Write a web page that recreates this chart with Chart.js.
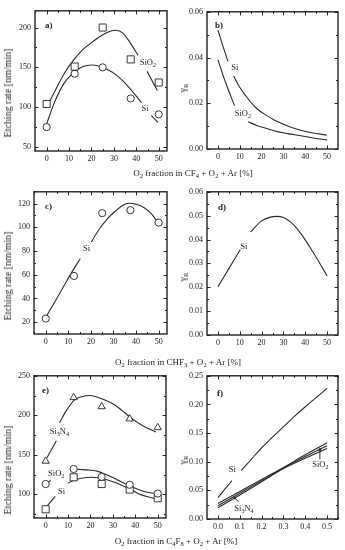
<!DOCTYPE html>
<html>
<head>
<meta charset="utf-8">
<title>Etching rate and recombination coefficient vs O2 fraction</title>
<script src="https://cdn.jsdelivr.net/npm/chart.js@4.4.0/dist/chart.umd.min.js"></script>
<style>
    body { margin: 0; background: #fff; width: 345px; height: 550px; position: relative; overflow: hidden;
           font-family: "Liberation Serif", serif; color: #222; }
    canvas { position: absolute; }
    .t { position: absolute; font-size: 9px; white-space: nowrap; line-height: 1; color: #222;
         will-change: transform; }
    .t sub { font-size: 6.5px; vertical-align: baseline; position: relative; top: 2px; color: #222; }
    .ctr { transform: translate(-50%, -50%); }
    .rot { transform: translate(-50%, -50%) rotate(-90deg); font-size: 10px; }
</style>
</head>
<body>
<canvas id="pa"></canvas>
<canvas id="pb"></canvas>
<canvas id="pc"></canvas>
<canvas id="pd"></canvas>
<canvas id="pe"></canvas>
<canvas id="pf"></canvas>

<div class="t rot" style="left:8px;top:93px">Etching rate [nm/min]</div>
<div class="t rot" style="left:183px;top:88px">γ<sub>R</sub></div>
<div class="t ctr" style="left:193px;top:173px">O<sub>2</sub> fraction in CF<sub>4</sub> + O<sub>2</sub> + Ar [%]</div>

<div class="t rot" style="left:8px;top:276px">Etching rate [nm/min]</div>
<div class="t rot" style="left:183px;top:277px">γ<sub>R</sub></div>
<div class="t ctr" style="left:178px;top:362px">O<sub>2</sub> fraction in CHF<sub>3</sub> + O<sub>2</sub> + Ar [%]</div>

<div class="t rot" style="left:8px;top:470px">Etching rate [nm/min]</div>
<div class="t rot" style="left:183px;top:460px">γ<sub>R</sub></div>
<div class="t ctr" style="left:176px;top:541px">O<sub>2</sub> fraction in C<sub>4</sub>F<sub>8</sub> + O<sub>2</sub> + Ar [%]</div>

<script>
// ---- data ----
var o2Pct = [0, 12.5, 25, 37.5, 50];
var xTicksPct = [0, 10, 20, 30, 40, 50];
var xTicksFrac = [0, 0.1, 0.2, 0.3, 0.4, 0.5];

// a) CF4 + O2 + Ar, etching rate
var aSiO2 = [104, 151, 200, 160, 131];
var aSi = [75, 142, 150, 111, 91];
var aFitSiO2X = [0, 4, 8, 12, 16, 20, 24, 28, 31, 34, 37, 40.8, 42.5, 44.8, 49.4];
var aFitSiO2Y = [100, 122, 143, 159, 172, 181, 189, 195, 196.5, 193, 182, 165, null, 145, 121];
var aFitSiX = [0, 3.5, 7.3, 11, 14.7, 17.5, 20.7, 24.9, 28, 31, 34, 37, 40, 42.3, 44.5, 46.7, 49.7];
var aFitSiY = [79, 106, 128, 141, 148.8, 152, 153, 150, 146, 140.6, 133, 124, 114, 105.7, null, 89.3, 81];
var yTicksA = [50, 100, 150, 200];

// b) CF4 + O2 + Ar, gamma_R
var bSiX = [0, 2.3, 4.6, 6, 7.2, 10, 14.5, 18, 22.2, 26, 29.8, 33.5, 37.5, 43, 50];
var bSiY = [0.052, 0.045, 0.0383, null, 0.0319, 0.027, 0.0211, 0.0175, 0.0147, 0.0126, 0.0109, 0.0095, 0.0083, 0.0071, 0.0061];
var bSiO2X = [0, 3.8, 7.6, 10, 13.8, 18, 22.2, 26, 29.8, 33.5, 37.5, 43, 50];
var bSiO2Y = [0.039, 0.0283, 0.019, null, 0.0119, 0.0102, 0.009, 0.0079, 0.0071, 0.0065, 0.0059, 0.0049, 0.004];
var yTicksB = [0, 0.02, 0.04, 0.06];

// c) CHF3 + O2 + Ar, etching rate
var cSi = [23, 59, 112, 114.5, 104];
var cFitX = [0, 4, 7.9, 11.5, 15.3, 17.5, 20.2, 23.5, 27.2, 31, 34, 36.9, 40, 43.6, 47, 50];
var cFitY = [24, 37, 50, 62, 73.7, null, 87.7, 98, 107, 114, 118.5, 120.3, 119.5, 116.6, 111, 103.4];
var yTicksC = [20, 40, 60, 80, 100, 120];

// d) CHF3 + O2 + Ar, gamma_R
var dFitX = [0, 5, 10.2, 12.5, 15, 20, 24, 27, 30, 34, 38, 42, 45, 47.5, 50];
var dFitY = [0.0202, 0.0278, 0.0357, null, 0.0432, 0.0478, 0.0494, 0.0497, 0.0492, 0.0468, 0.0425, 0.037, 0.0326, 0.0287, 0.0247];
var yTicksD = [0, 0.01, 0.02, 0.03, 0.04, 0.05, 0.06];

// e) C4F8 + O2 + Ar, etching rate
var eSi3N4 = [142, 222.5, 211, 195.5, 184.5];
var eSiO2 = [113, 132, 122, 112, 101];
var eSi = [81, 121.5, 113, 106, 95];
var eFitSi3N4X = [6.2, 9, 12.9, 16, 20, 24, 27.5, 30.7, 34.5, 38.1, 42, 45.5, 49.2];
var eFitSi3N4Y = [190.6, 205, 219.6, 223.5, 225, 222, 218, 213.4, 205, 196.8, 189, 183.6, 179];
var eFitSiO2X = [11.4, 16, 20, 23.3, 27, 30.7, 34.5, 38.1, 42, 45.5, 49.2];
var eFitSiO2Y = [131.7, 131.3, 130.5, 129, 125, 120.3, 114.5, 109.9, 105.5, 102.5, 100.9];
var eFitSiX = [10, 12.5, 15.9, 20.3, 24, 27.7, 31.4, 35.1, 38.8, 42.5, 46, 49.2];
var eFitSiY = [114.1, 117.8, 120.3, 121.6, 120.6, 118.2, 114.5, 110, 104.8, 99.6, 96.5, 94.3];
var eLeadSi3N4X = [0.6, 4.8], eLeadSi3N4Y = [146.4, 167.9];
var eLeadSiO2X = [0.9, 2.2], eLeadSiO2Y = [114.5, 118];
var eLeadSiX = [0.6, 4.3], eLeadSiY = [85, 97.5];
var yTicksE = [100, 150, 200, 250];

// f) C4F8 + O2 + Ar, gamma_R
var fSiX = [0, 0.032, 0.064, 0.085, 0.106, 0.15, 0.2, 0.25, 0.303, 0.35, 0.4, 0.45, 0.5];
var fSiY = [0.0374, 0.052, 0.067, null, 0.0845, 0.103, 0.124, 0.143, 0.162, 0.179, 0.196, 0.212, 0.228];
var fLowX = [0, 0.1, 0.2, 0.3, 0.4, 0.5];
var fLow1 = [0.027, 0.048, 0.069, 0.090, 0.112, 0.133];
var fLow2 = [0.023, 0.045, 0.067, 0.089, 0.109, 0.128];
var fLow3 = [0.0195, 0.042, 0.065, 0.088, 0.106, 0.123];
var fArrowSi3N4X = [0.094, 0.077], fArrowSi3N4Y = [0.030, 0.037];
var fArrowSiO2X = [0.467, 0.467], fArrowSiO2Y = [0.104, 0.121];
var yTicksF = [0, 0.05, 0.1, 0.15, 0.2, 0.25];

// ---- helpers ----
var INK = '#222';
var FONT = '"Liberation Serif", "Times New Roman", serif';

function pts(xs, ys) {
    return xs.map(function(x, i) { return {x: x, y: ys[i]}; });
}

function marks(xs, ys, style, r) {
    return {data: pts(xs, ys), showLine: false, pointStyle: style, pointRadius: r,
            borderColor: INK, backgroundColor: '#fff', pointBorderWidth: 0.9};
}

function curve(xs, ys) {
    return {data: pts(xs, ys), showLine: true, pointRadius: 0, borderColor: '#2a2a2a', borderWidth: 1.1,
            spanGaps: false, cubicInterpolationMode: 'monotone'};
}

function leader(xs, ys) {
    return {data: pts(xs, ys), showLine: true, pointRadius: 0, borderColor: '#2a2a2a', borderWidth: 1.1};
}

function arrow(xs, ys, rot) {
    return {data: pts(xs, ys), showLine: true, borderColor: '#2a2a2a', borderWidth: 1,
            pointStyle: 'triangle', pointRadius: [0, 2.2], pointRotation: rot,
            backgroundColor: '#2a2a2a', pointBorderWidth: 0};
}

// text with "_x" meaning subscript x
function drawRich(ctx, str, x, y, size, bold) {
    var cx = x;
    for (var i = 0; i < str.length; i++) {
        var ch = str[i], sub = false;
        if (ch === '_') { sub = true; i++; ch = str[i]; }
        ctx.font = (bold ? 'bold ' : '') + (sub ? size * 0.72 : size) + 'px ' + FONT;
        ctx.fillText(ch, cx, sub ? y + size * 0.32 : y);
        cx += ctx.measureText(ch).width;
    }
}

var framePlugin = {
    id: 'frame',
    afterDraw: function(chart) {
        var ctx = chart.ctx, a = chart.chartArea;
        var sx = chart.scales.x, sy = chart.scales.y;
        ctx.save();
        ctx.strokeStyle = INK;
        ctx.lineWidth = 1;
        function ticksFor(scale) {
            var v = scale.ticks.map(function(t) { return t.value; });
            var half = (v[1] - v[0]) / 2, out = [];
            v.forEach(function(t) { out.push([t, 3.5]); });
            for (var m = v[0] - half; m < scale.max; m += 2 * half) {
                if (m > scale.min) out.push([m, 2]);
            }
            return out;
        }
        ctx.beginPath();
        ticksFor(sx).forEach(function(t) {
            var p = Math.round(sx.getPixelForValue(t[0])) + 0.5;
            ctx.moveTo(p, a.bottom); ctx.lineTo(p, a.bottom - t[1]);
            ctx.moveTo(p, a.top); ctx.lineTo(p, a.top + t[1]);
        });
        ticksFor(sy).forEach(function(t) {
            var p = Math.round(sy.getPixelForValue(t[0])) + 0.5;
            ctx.moveTo(a.left, p); ctx.lineTo(a.left + t[1], p);
            ctx.moveTo(a.right, p); ctx.lineTo(a.right - t[1], p);
        });
        ctx.stroke();
        ctx.lineWidth = 1.4;
        ctx.strokeRect(a.left, a.top, a.right - a.left, a.bottom - a.top);
        ctx.restore();
    }
};

var notesPlugin = {
    id: 'notes',
    afterDatasetsDraw: function(chart, args, opts) {
        var ctx = chart.ctx, a = chart.chartArea;
        ctx.save();
        ctx.fillStyle = INK;
        ctx.textBaseline = 'middle';
        ctx.textAlign = 'left';
        drawRich(ctx, opts.letter, a.left + opts.lx, a.top + opts.ly, 9, true);
        opts.items.forEach(function(n) {
            drawRich(ctx, n[2], chart.scales.x.getPixelForValue(n[0]), chart.scales.y.getPixelForValue(n[1]), 8.5, false);
        });
        ctx.restore();
    }
};

function makePanel(id, box, xr, xTicks, yr, yTicks, fmtX, fmtY, datasets, letter, items) {
    var ml = 30, mt = 6, mr = 6, mb = 16;
    var cv = document.getElementById(id);
    cv.width = box[2] - box[0] + ml + mr;
    cv.height = box[3] - box[1] + mt + mb;
    cv.style.left = (box[0] - ml) + 'px';
    cv.style.top = (box[1] - mt) + 'px';
    var tickFont = {family: FONT, size: 8};
    return new Chart(cv, {
        type: 'scatter',
        data: {datasets: datasets},
        options: {
            responsive: false, animation: false, devicePixelRatio: 1,
            layout: {padding: {top: mt, right: mr, left: 0, bottom: 0}},
            plugins: {
                legend: {display: false}, tooltip: {enabled: false},
                notes: {letter: letter[0], lx: letter[1], ly: letter[2], items: items}
            },
            scales: {
                x: {
                    type: 'linear', min: xr[0], max: xr[1],
                    grid: {display: false, drawTicks: false}, border: {display: false},
                    ticks: {padding: 3, font: tickFont, color: INK, maxRotation: 0, autoSkip: false,
                            callback: fmtX},
                    afterBuildTicks: function(s) { s.ticks = xTicks.map(function(v) { return {value: v}; }); },
                    afterFit: function(s) { s.height = mb; }
                },
                y: {
                    type: 'linear', min: yr[0], max: yr[1],
                    grid: {display: false, drawTicks: false}, border: {display: false},
                    ticks: {padding: 4, font: tickFont, color: INK, autoSkip: false, callback: fmtY},
                    afterBuildTicks: function(s) { s.ticks = yTicks.map(function(v) { return {value: v}; }); },
                    afterFit: function(s) { s.width = ml; }
                }
            }
        },
        plugins: [framePlugin, notesPlugin]
    });
}

function intFmt(v) { return String(Math.round(v)); }
function fix1(v) { return v.toFixed(1); }
function fix2(v) { return v.toFixed(2); }

var leftX = [-5.2, 53.7], rightX = [-5, 55];

makePanel('pa', [35, 8, 167, 151], leftX, xTicksPct, [45, 221], yTicksA, intFmt, intFmt, [
    marks(o2Pct, aSiO2, 'rect', 5),
    marks(o2Pct, aSi, 'circle', 3.6),
    curve(aFitSiO2X, aFitSiO2Y),
    curve(aFitSiX, aFitSiY)
], ['a)', 10, 15], [[41.5, 156, 'SiO_2'], [42.3, 98, 'Si']]);

makePanel('pb', [207, 9, 338, 149], rightX, xTicksPct, [0, 0.06], yTicksB, intFmt, fix2, [
    curve(bSiX, bSiY),
    curve(bSiO2X, bSiO2Y)
], ['b)', 8, 14], [[6.1, 0.0357, 'Si'], [7.7, 0.0154, 'SiO_2']]);

makePanel('pc', [34, 189, 167, 334], leftX, xTicksPct, [10, 130], yTicksC, intFmt, intFmt, [
    marks(o2Pct, cSi, 'circle', 3.6),
    curve(cFitX, cFitY)
], ['c)', 11, 15], [[16.5, 82, 'Si']]);

makePanel('pd', [207, 189, 338, 335], rightX, xTicksPct, [0, 0.06], yTicksD, intFmt, fix2, [
    curve(dFitX, dFitY)
], ['d)', 11, 16], [[10.2, 0.037, 'Si']]);

makePanel('pe', [34, 373, 166, 518], leftX, xTicksPct, [70, 250], yTicksE, intFmt, intFmt, [
    marks(o2Pct, eSi3N4, 'triangle', 4.2),
    marks(o2Pct, eSiO2, 'circle', 3.6),
    marks(o2Pct, eSi, 'rect', 5),
    curve(eFitSi3N4X, eFitSi3N4Y),
    curve(eFitSiO2X, eFitSiO2Y),
    curve(eFitSiX, eFitSiY),
    leader(eLeadSi3N4X, eLeadSi3N4Y),
    leader(eLeadSiO2X, eLeadSiO2Y),
    leader(eLeadSiX, eLeadSiY)
], ['e)', 8, 15], [[1.8, 179.4, 'Si_3N_4'], [1.1, 125.7, 'SiO_2'], [5.5, 103.7, 'Si']]);

makePanel('pf', [207, 373, 338, 519], [-0.05, 0.55], xTicksFrac, [0, 0.25], yTicksF, fix1, fix2, [
    curve(fSiX, fSiY),
    curve(fLowX, fLow1),
    curve(fLowX, fLow2),
    curve(fLowX, fLow3),
    arrow(fArrowSi3N4X, fArrowSi3N4Y, -40),
    arrow(fArrowSiO2X, fArrowSiO2Y, 0)
], ['f)', 10, 18], [[0.05, 0.0857, 'Si'], [0.075, 0.0184, 'Si_3N_4'], [0.432, 0.094, 'SiO_2']]);
</script>
</body>
</html>
